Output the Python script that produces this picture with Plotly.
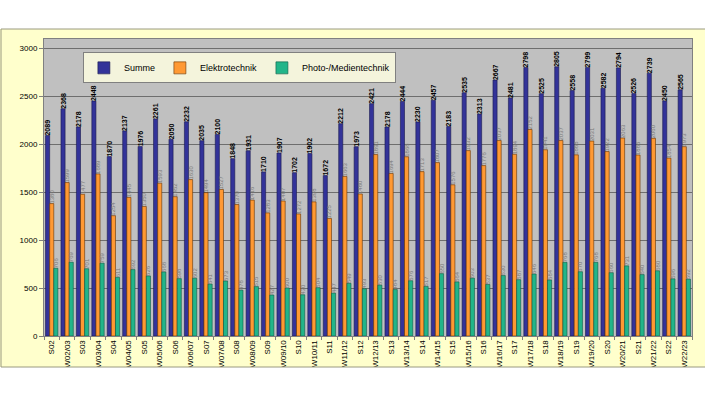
import plotly.graph_objects as go

categories = ["S02", "W02/03", "S03", "W03/04", "S04", "W04/05", "S05", "W05/06", "S06", "W06/07",
              "S07", "W07/08", "S08", "W08/09", "S09", "W09/10", "S10", "W10/11", "S11", "W11/12",
              "S12", "W12/13", "S13", "W13/14", "S14", "W14/15", "S15", "W15/16", "S16", "W16/17",
              "S17", "W17/18", "S18", "W18/19", "S19", "W19/20", "S20", "W20/21", "S21", "W21/22",
              "S22", "W22/23"]

summe = [2089, 2368, 2178, 2448, 1870, 2137, 1976, 2261, 2050, 2232,
         2035, 2100, 1848, 1931, 1710, 1907, 1702, 1902, 1672, 2212,
         1973, 2421, 2178, 2444, 2230, 2457, 2183, 2535, 2313, 2667,
         2481, 2798, 2525, 2805, 2558, 2799, 2582, 2794, 2526, 2739,
         2450, 2565]

elektrotechnik = [1380, 1599, 1477, 1689, 1254, 1445, 1350, 1593, 1452, 1630,
                  1494, 1527, 1370, 1416, 1283, 1407, 1272, 1398, 1225, 1663,
                  1480, 1891, 1694, 1868, 1713, 1807, 1576, 1932, 1776, 2037,
                  1894, 2152, 1941, 2037, 1888, 2031, 1922, 2063, 1886, 2060,
                  1854, 1973]

photo = [706, 769, 701, 759, 611, 692, 626, 668, 598, 602,
         541, 573, 478, 515, 427, 500, 430, 504, 447, 549,
         493, 530, 484, 576, 517, 650, 564, 603, 537, 630,
         587, 646, 584, 768, 670, 768, 660, 731, 640, 680,
         596, 592]

series_names = ["Summe", "Elektrotechnik", "Photo-/Medientechnik"]
y_ticks = [0, 500, 1000, 1500, 2000, 2500, 3000]

FONT = "Liberation Sans, Arial, sans-serif"
W, H = 705, 397
ML, MR, MT, MB = 44, 13, 39, 61
PW, PH = W - ML - MR, H - MT - MB

fig = go.Figure()
fig.add_trace(go.Bar(
    name=series_names[0], x=categories, y=summe,
    marker=dict(color="#333399", line=dict(color="#1a1a4d", width=0.6)),
    text=[str(v) for v in summe], textposition="outside", textangle=-90,
    constraintext="none", cliponaxis=False,
    textfont=dict(family=FONT, size=7, color="#000000", weight="bold"),
))
fig.add_trace(go.Bar(
    name=series_names[1], x=categories, y=elektrotechnik,
    marker=dict(color="#FF9933", line=dict(color="#663300", width=0.6)),
    text=[str(v) for v in elektrotechnik], textposition="outside", textangle=-90,
    constraintext="none", cliponaxis=False,
    textfont=dict(family=FONT, size=6, color="#7a7a7a"),
))
fig.add_trace(go.Bar(
    name=series_names[2], x=categories, y=photo,
    marker=dict(color="#22B589", line=dict(color="#0d5a44", width=0.6)),
    text=[str(v) for v in photo], textposition="outside", textangle=-90,
    constraintext="none", cliponaxis=False,
    textfont=dict(family=FONT, size=6, color="#7a7a7a"),
))

top_line = 1 + 10 / PH
bot_line = -31 / PH
left_line = -43 / PW
right_edge = (W - ML) / PW

fig.update_layout(
    width=W, height=H,
    margin=dict(l=ML, r=MR, t=MT, b=MB),
    paper_bgcolor="#FFFFCC",
    plot_bgcolor="#C0C0C0",
    barmode="group",
    bargap=0.2,
    bargroupgap=0.0,
    font=dict(family=FONT, size=8, color="#000000"),
    showlegend=True,
    legend=dict(
        orientation="h", x=0.06, y=0.955, xanchor="left", yanchor="top",
        bgcolor="#F4F4DC", bordercolor="#808080", borderwidth=1,
        font=dict(family=FONT, size=9, color="#000000"),
        itemwidth=30, tracegroupgap=0,
    ),
    xaxis=dict(
        tickangle=-90, tickfont=dict(family=FONT, size=8),
        showline=True, linecolor="#808080", linewidth=1, mirror=True,
        ticks="outside", ticklen=3, tickcolor="#808080", tickson="boundaries",
        showgrid=False,
    ),
    yaxis=dict(
        range=[0, 3095], tickvals=y_ticks,
        tickfont=dict(family=FONT, size=8),
        showgrid=True, gridcolor="#6e6e6e", gridwidth=1,
        showline=True, linecolor="#808080", linewidth=1, mirror=True,
        ticks="outside", ticklen=4, tickcolor="#808080",
        zeroline=False,
    ),
    shapes=[
        dict(type="rect", xref="paper", yref="paper", x0=-ML / PW - 0.01, x1=right_edge + 0.01,
             y0=top_line, y1=1 + MT / PH + 0.01, fillcolor="#FFFFFF", line=dict(width=0), layer="above"),
        dict(type="rect", xref="paper", yref="paper", x0=-ML / PW - 0.01, x1=right_edge + 0.01,
             y0=bot_line, y1=-MB / PH - 0.01, fillcolor="#FFFFFF", line=dict(width=0), layer="above"),
        dict(type="line", xref="paper", yref="paper", x0=left_line, x1=right_edge + 0.01,
             y0=top_line, y1=top_line, line=dict(color="#9a9a80", width=1)),
        dict(type="line", xref="paper", yref="paper", x0=left_line, x1=right_edge + 0.01,
             y0=bot_line, y1=bot_line, line=dict(color="#9a9a80", width=1)),
        dict(type="line", xref="paper", yref="paper", x0=left_line, x1=left_line,
             y0=bot_line, y1=top_line, line=dict(color="#9a9a80", width=1)),
    ],
)

fig.write_html(
    "out.html",
    config={"displayModeBar": False},
    post_script="document.body.style.margin='0';document.body.style.overflow='hidden';",
)
